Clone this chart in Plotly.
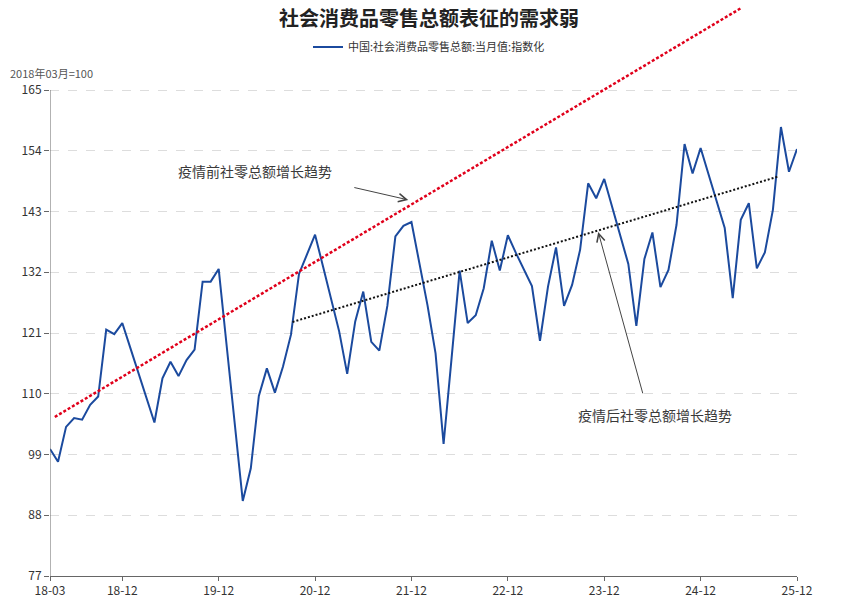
import plotly.graph_objects as go

# ---------------- data ----------------
series_name = "中国:社会消费品零售总额:当月值:指数化"
# monthly index, 2018-03 = 100, from 2018-03 to 2025-12
retail_index = [
    100.0, 97.7, 104.0, 105.6, 105.3, 108.0, 109.5, 121.6, 120.8, 122.8,   # 2018-03..12
    118.3, 113.8, 109.3, 104.8, 112.8, 115.8, 113.2, 116.1, 118.0, 130.3, 130.3, 132.6,  # 2019
    118.6, 104.6, 90.6, 96.5, 109.6, 114.6, 110.2, 114.9, 120.7, 131.7, 135.2, 138.8,   # 2020
    133.0, 127.2, 121.3, 113.6, 123.1, 128.5, 119.4, 117.8, 125.9, 138.5, 140.4, 141.1,  # 2021
    133.5, 126.0, 117.3, 100.9, 116.5, 132.3, 122.8, 124.2, 129.1, 137.7, 132.3, 138.7,  # 2022
    135.5, 132.4, 129.5, 119.6, 129.4, 136.5, 125.9, 129.7, 136.1, 148.1, 145.4, 148.9,  # 2023
    143.8, 138.7, 133.5, 122.3, 134.4, 139.2, 129.3, 132.4, 140.6, 155.2, 149.9, 154.5,  # 2024
    149.7, 144.9, 140.0, 127.3, 141.5, 144.5, 132.7, 135.6, 143.3, 158.3, 150.2, 154.3,  # 2025
]
month_index = list(range(len(retail_index)))

tick_months = [0, 9, 21, 33, 45, 57, 69, 81, 93]
tick_labels = ["18-03", "18-12", "19-12", "20-12", "21-12", "22-12", "23-12", "24-12", "25-12"]
y_ticks = [77, 88, 99, 110, 121, 132, 143, 154, 165]

# trend lines (month index, value) end points
pre_trend_x = [0.6, 86.0]
pre_trend_y = [105.8, 179.8]
post_trend_x = [30.2, 90.6]
post_trend_y = [123.0, 149.3]

pre_label = "疫情前社零总额增长趋势"
post_label = "疫情后社零总额增长趋势"
title_text = "社会消费品零售总额表征的需求弱"
y_unit = "2018年03月=100"

# ---------------- layout geometry ----------------
W, H = 865, 599
ml, mr, mt, mb = 50, 68, 4, 23
plot_w, plot_h = W - ml - mr, H - mt - mb
px_per_unit = (576 - 90) / 88.0
y_top = 77 + plot_h / px_per_unit

def px_x(px):  # pixel x -> paper x
    return (px - ml) / plot_w

def px_y(py):  # pixel y -> paper y
    return (H - mb - py) / plot_h

FONT = "Noto Sans CJK SC"
BLUE = "#1b4a9e"

fig = go.Figure()
fig.add_trace(go.Scatter(
    x=month_index, y=retail_index, mode="lines", name=series_name,
    line=dict(color=BLUE, width=2), showlegend=True,
))
fig.add_trace(go.Scatter(
    x=pre_trend_x, y=pre_trend_y, mode="lines", showlegend=False,
    line=dict(color="#e0001b", width=2.5, dash="3px,2px"),
))
fig.add_trace(go.Scatter(
    x=post_trend_x, y=post_trend_y, mode="lines", showlegend=False,
    line=dict(color="#111111", width=2, dash="2px,2px"),
))

# y axis line only from 77 to 165
fig.add_shape(type="line", xref="x", yref="y", x0=0, x1=0, y0=y_ticks[0], y1=y_ticks[-1],
              line=dict(color="#666666", width=1), layer="above")

annotations = [
    dict(text=pre_label, x=25.5, y=150.3, xref="x", yref="y", showarrow=False,
         font=dict(family=FONT, size=14, color="#3a3a3a")),
    dict(text="", x=44.6, y=145.1, ax=37.7, ay=147.4, xref="x", yref="y", axref="x", ayref="y",
         showarrow=True, arrowhead=5, arrowsize=1.6, arrowwidth=1, arrowcolor="#444444"),
    dict(text=post_label, x=75.3, y=106.2, xref="x", yref="y", showarrow=False,
         font=dict(family=FONT, size=14, color="#3a3a3a")),
    dict(text="", x=68.25, y=139.3, ax=73.85, ay=109.8, xref="x", yref="y", axref="x", ayref="y",
         showarrow=True, arrowhead=5, arrowsize=1.6, arrowwidth=1, arrowcolor="#444444"),
    dict(text=y_unit, x=px_x(8), y=px_y(73), xref="paper", yref="paper",
         xanchor="left", yanchor="middle", showarrow=False,
         font=dict(family=FONT, size=11, color="#555555")),
]

fig.update_layout(
    width=W, height=H,
    margin=dict(l=ml, r=mr, t=mt, b=mb, pad=0, autoexpand=False),
    paper_bgcolor="white", plot_bgcolor="white",
    font=dict(family=FONT, size=12, color="#333333"),
    title=dict(text="<b>" + title_text + "</b>", x=429 / W, xref="container", xanchor="center",
               y=1 - 19 / H, yref="container", yanchor="middle",
               font=dict(family=FONT, size=20, color="#222222")),
    legend=dict(orientation="h", xref="paper", yref="paper", x=px_x(429), xanchor="center",
                y=px_y(47), yanchor="middle", itemwidth=30,
                font=dict(family=FONT, size=11, color="#333333"), bgcolor="rgba(0,0,0,0)"),
    annotations=annotations,
    xaxis=dict(range=[0, 93], tickvals=tick_months, ticktext=tick_labels, showgrid=False,
               zeroline=False, showline=True, linecolor="#666666", linewidth=1,
               ticks="outside", ticklen=4, tickcolor="#666666", automargin=False,
               tickfont=dict(family=FONT, size=12, color="#333333")),
    yaxis=dict(range=[77, y_top], tickvals=y_ticks, showgrid=True, gridcolor="#dddddd",
               griddash="dash", gridwidth=1, zeroline=False, showline=False,
               ticks="outside", ticklen=5, tickcolor="#666666", automargin=False,
               tickfont=dict(family=FONT, size=12, color="#333333")),
)

fig.write_html("out.html", config={"displayModeBar": False},
               post_script="document.body.style.margin='0';document.body.style.overflow='hidden';")
